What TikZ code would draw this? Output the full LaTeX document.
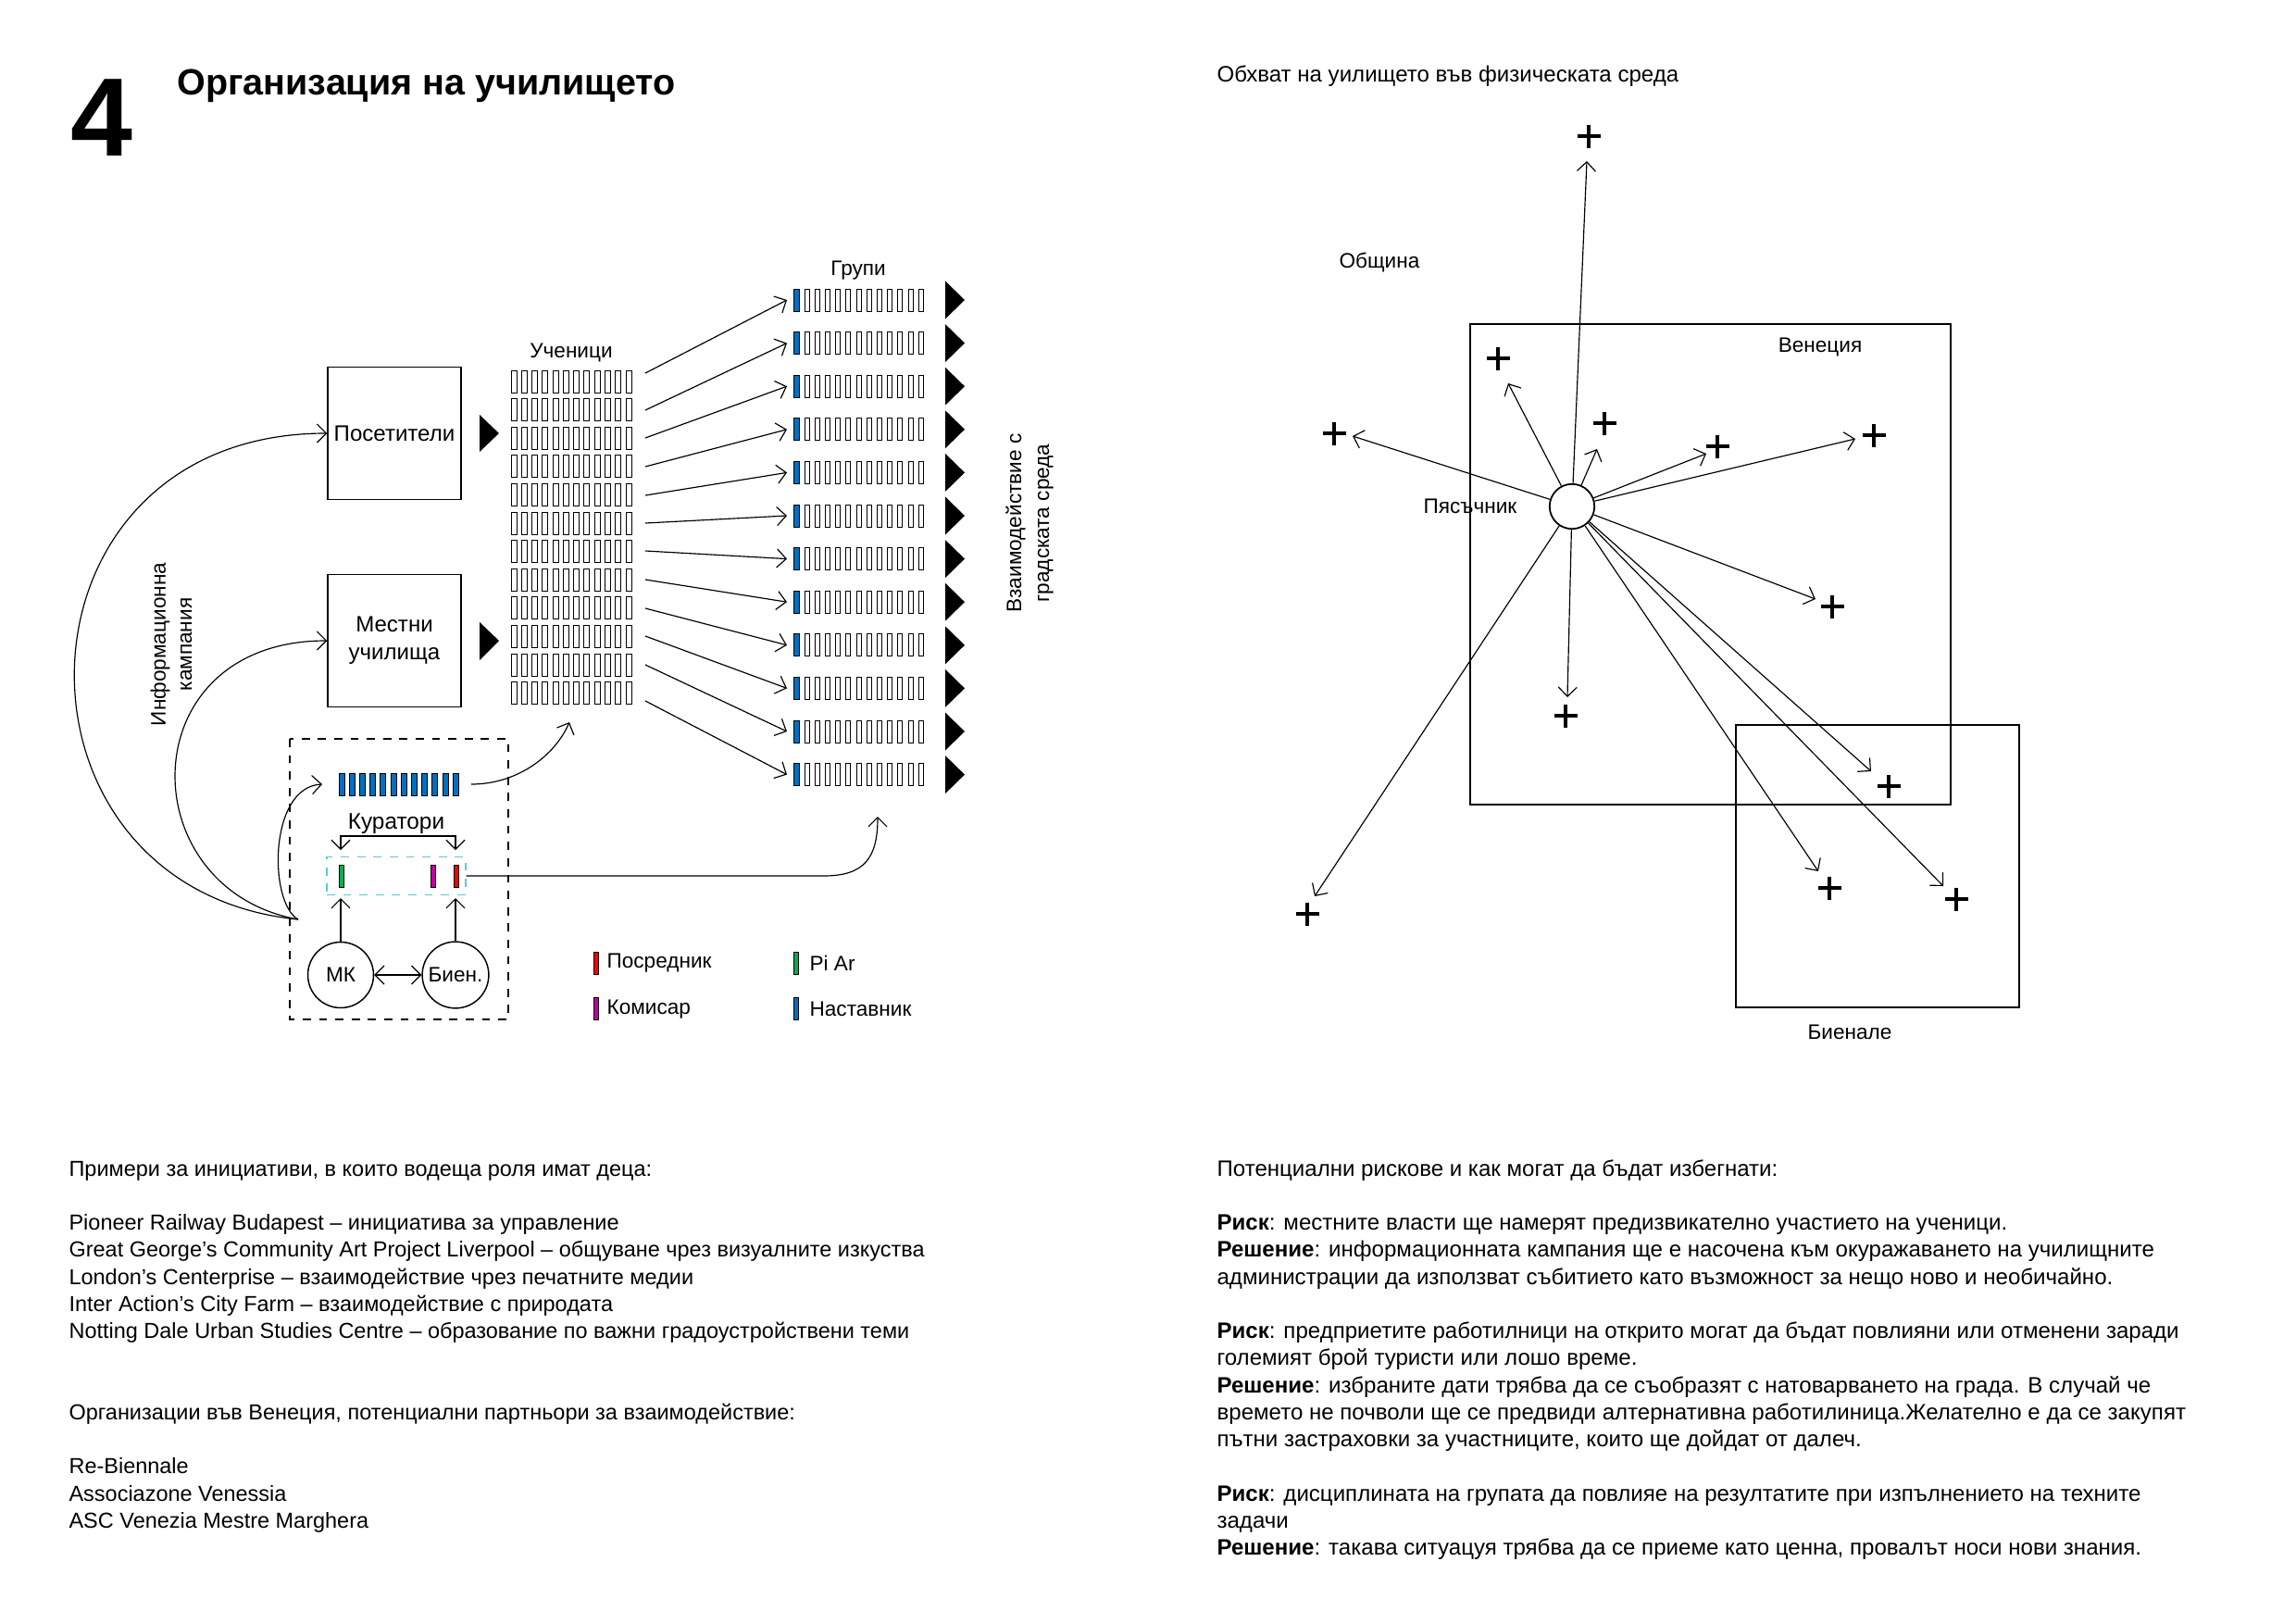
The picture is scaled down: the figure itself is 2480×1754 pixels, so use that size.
\documentclass[tikz,border=0pt]{standalone}
\usepackage{fontspec}
\setmainfont{Liberation Sans}
\usetikzlibrary{arrows.meta}
\definecolor{mblue}{RGB}{0,112,192}
\definecolor{mgreen}{RGB}{0,176,80}
\definecolor{mred}{RGB}{255,0,0}
\definecolor{mmag}{RGB}{192,0,160}
\definecolor{mcyan}{RGB}{90,200,220}
\tikzset{
  conn/.style={line width=0.4pt,-{Straight Barb[length=1.2mm,width=2.4mm]}},
  dconn/.style={line width=0.4pt,{Straight Barb[length=1.2mm,width=2.4mm]}-{Straight Barb[length=1.2mm,width=2.4mm]}},
  body/.style={anchor=base west,inner sep=0pt,font=\fontsize{8.0}{9.5}\selectfont},
  rbody/.style={anchor=base west,inner sep=0pt,font=\fontsize{8.2}{9.5}\selectfont},
  lbl/.style={inner sep=0pt,font=\fontsize{7.7}{9.5}\selectfont},
  rlbl/.style={inner sep=0pt,rotate=90,align=center,font=\fontsize{7.7}{10.2}\selectfont},
  sqbox/.style={draw,line width=0.5pt,minimum width=17.25mm,minimum height=17.15mm,inner sep=0pt,font=\fontsize{8.2}{10.2}\selectfont},
  thinrect/.style={draw,line width=0.3pt},
  bigbox/.style={draw,line width=0.8pt},
  crossmark/.style={line width=1.3pt}
}
\begin{document}
\begin{tikzpicture}[x=0.11976mm,y=-0.11976mm]
\useasboundingbox (0,0) rectangle (2480,1754);
\fill[white] (0,0) rectangle (2480,1754);

% ---------- heading ----------
\node[anchor=base west,inner sep=0pt,font=\fontsize{41}{41}\selectfont\bfseries] (num) at (76,168) {4};
\node[anchor=base west,inner sep=0pt,font=\fontsize{13.45}{13.45}\selectfont\bfseries] (title) at (191,102) {Организация на училището};

% ---------- left diagram ----------
\node[sqbox] (vis) at (426,468) {Посетители};
\node[sqbox,align=center] (loc) at (426,692) {Местни\\училища};
\fill (518,448) -- (539,468) -- (518,488) -- cycle;
\fill (518,672) -- (539,692) -- (518,713) -- cycle;

\node[lbl] (ucl) at (617,381) {Ученици};
\foreach \i in {0,...,11}
  \foreach \j in {0,...,11}
    \draw[thinrect] ({552+11.27*\j},{400+30.6*\i}) rectangle +(6,24);

\node[lbl] (grl) at (927,292) {Групи};
\foreach \i in {0,...,11} {
  \pgfmathsetmacro\cy{324+46.6*\i}
  \filldraw[thinrect,fill=mblue] (857,{\cy-12}) rectangle +(6,24);
  \foreach \j in {0,...,11}
    \draw[thinrect] ({869+11.2*\j},{\cy-12}) rectangle +(5,24);
  \fill (1021,{\cy-20.5}) -- (1042,\cy) -- (1021,{\cy+20.5}) -- cycle;
}
\foreach \s [count=\i from 0] in {403,443,473,504,535,565,595,626,657,687,718,757} {
  \coordinate (s\i) at (697,\s);
  \coordinate (g\i) at (850,{324+46.6*\i});
  \draw[conn] (s\i) -- (g\i);
}
\node[rlbl] (inter) at (1112,565) {Взаимодействие с\\градската среда};
\node[rlbl,font=\fontsize{7.7}{9.6}\selectfont] (info) at (185,696) {Информационна\\кампания};

% curators block
\draw[dashed,line width=0.4pt] (313,798) rectangle (549,1101);
\foreach \j in {0,...,11}
  \filldraw[thinrect,fill=mblue] ({366+11.2*\j},835) rectangle +(6,24);
\node[lbl,font=\fontsize{8.3}{9.5}\selectfont] (curl) at (428,890) {Куратори};
\coordinate (br1) at (368,918);
\coordinate (br2) at (492,918);
\draw[dconn] (br1) -- ++(0,-15) -| (br2);
\node[draw=mcyan,dashed,line width=0.5pt,minimum width=17.96mm,minimum height=4.91mm,inner sep=0pt] (pr) at (428,946) {};
\filldraw[thinrect,fill=mgreen] (366,934) rectangle +(5,24);
\filldraw[thinrect,fill=mmag] (465,934) rectangle +(5,24);
\filldraw[thinrect,fill=mred] (490,934) rectangle +(5,24);
\node[draw,circle,line width=0.5pt,minimum size=8.5mm,inner sep=0pt,lbl] (mk) at (368,1053) {МК};
\node[draw,circle,line width=0.5pt,minimum size=8.6mm,inner sep=0pt,lbl] (bien) at (492,1053) {Биен.};
\draw[dconn] (mk) -- (bien);
\coordinate (pu1) at (368,970);
\coordinate (pu2) at (492,970);
\draw[conn] (mk) -- (pu1);
\draw[conn] (bien) -- (pu2);

% curves
\coordinate (src) at (322,993);
\draw[conn] (src) .. controls (-10,960) and (0,468) .. (vis.west);
\draw[conn] (src) .. controls (140,960) and (140,692) .. (loc.west);
\coordinate (cin) at (348,847);
\draw[conn] (src) .. controls (290,975) and (290,850) .. (cin);
\coordinate (cq) at (509,847);
\coordinate (gt) at (615,780);
\draw[conn] (cq) .. controls (560,847) and (600,815) .. (gt);
\coordinate (lt) at (948,882);
\draw[conn] (pr.east) -- (890,946) .. controls (935,946) and (948,925) .. (lt);

% legend
\filldraw[thinrect,fill=mred] (641,1028) rectangle +(5,24);
\filldraw[thinrect,fill=mmag] (641,1077) rectangle +(5,24);
\filldraw[thinrect,fill=mgreen] (857,1028) rectangle +(5,24);
\filldraw[thinrect,fill=mblue] (857,1077) rectangle +(5,24);
\node[lbl,anchor=west] (lg1) at (655,1040) {Посредник};
\node[lbl,anchor=west] (lg2) at (655,1090) {Комисар};
\node[lbl,anchor=west] (lg3) at (874,1040) {Pi Ar};
\node[lbl,anchor=west] (lg4) at (874,1090) {Наставник};

% ---------- right diagram ----------
\node[lbl,anchor=west,font=\fontsize{8.2}{9.5}\selectfont] (rtitle) at (1314,82) {Обхват на уилището във физическата среда};
\draw[bigbox] (1588,350) rectangle (2107,869);
\draw[bigbox] (1875,783) rectangle (2181,1088);
\node[lbl] (obs) at (1490,283) {Община};
\node[lbl] (ven) at (1966,375) {Венеция};
\node[lbl] (sandl) at (1588,547) {Пясъчник};
\node[lbl] (bie) at (1998,1115) {Биенале};
\node[draw,circle,line width=0.6pt,minimum size=5.8mm,inner sep=0pt,fill=white] (sand) at (1698,547) {};
\foreach \x/\y [count=\k] in {1714/174,1629/414,1461/471,1725/485,1843/490,2004/474,1961/647,1693/753,2021/833,1964/941,2099/957,1420/968} {
  \coordinate (p\k) at (\x,\y);
  \draw[conn] (sand) -- (p\k);
}
\foreach \x/\y in {1716/147,1618/387,1441/468,1733/457,1855/482,2024/470,1979/655,1691/773,2040/849,1976/959,2113/971,1412/987}
  \draw[crossmark] ({\x-12.5},\y) -- ({\x+12.5},\y) (\x,{\y-12.5}) -- (\x,{\y+12.5});

% ---------- left text ----------
\node[body] (a0) at (74,1270) {Примери за инициативи, в които водеща роля имат деца:};
\node[body] (a2) at (74,1328.5) {Pioneer Railway Budapest – инициатива за управление};
\node[body] (a3) at (74,1357.75) {Great George’s Community Art Project Liverpool – общуване чрез визуалните изкуства};
\node[body] (a4) at (74,1387) {London’s Centerprise – взаимодействие чрез печатните медии};
\node[body] (a5) at (74,1416.25) {Inter Action’s City Farm – взаимодействие с природата};
\node[body] (a6) at (74,1445.5) {Notting Dale Urban Studies Centre – образование по важни градоустройствени теми};
\node[body] (a9) at (74,1533.25) {Организации във Венеция, потенциални партньори за взаимодействие:};
\node[body] (a11) at (74,1591.75) {Re-Biennale};
\node[body] (a12) at (74,1621) {Associazone Venessia};
\node[body] (a13) at (74,1650.25) {ASC Venezia Mestre Marghera};

% ---------- right text ----------
\node[rbody] (b0) at (1314,1270) {Потенциални рискове и как могат да бъдат избегнати:};
\node[rbody] (b2) at (1314,1328.5) {\textbf{Риск}: местните власти ще намерят предизвикателно участието на ученици.};
\node[rbody] (b3) at (1314,1357.75) {\textbf{Решение}: информационната кампания ще е насочена към окуражаването на училищните};
\node[rbody] (b4) at (1314,1387) {администрации да използват събитието като възможност за нещо ново и необичайно.};
\node[rbody] (b6) at (1314,1445.5) {\textbf{Риск}: предприетите работилници на открито могат да бъдат повлияни или отменени заради};
\node[rbody] (b7) at (1314,1474.75) {големият брой туристи или лошо време.};
\node[rbody] (b8) at (1314,1504) {\textbf{Решение}: избраните дати трябва да се съобразят с натоварването на града. В случай че};
\node[rbody] (b9) at (1314,1533.25) {времето не почволи ще се предвиди алтернативна работилиница.Желателно е да се закупят};
\node[rbody] (b10) at (1314,1562.5) {пътни застраховки за участниците, които ще дойдат от далеч.};
\node[rbody] (b12) at (1314,1621) {\textbf{Риск}: дисциплината на групата да повлияе на резултатите при изпълнението на техните};
\node[rbody] (b13) at (1314,1650.25) {задачи};
\node[rbody] (b14) at (1314,1679.5) {\textbf{Решение}: такава ситуацуя трябва да се приеме като ценна, провалът носи нови знания.};
\end{tikzpicture}
\end{document}
